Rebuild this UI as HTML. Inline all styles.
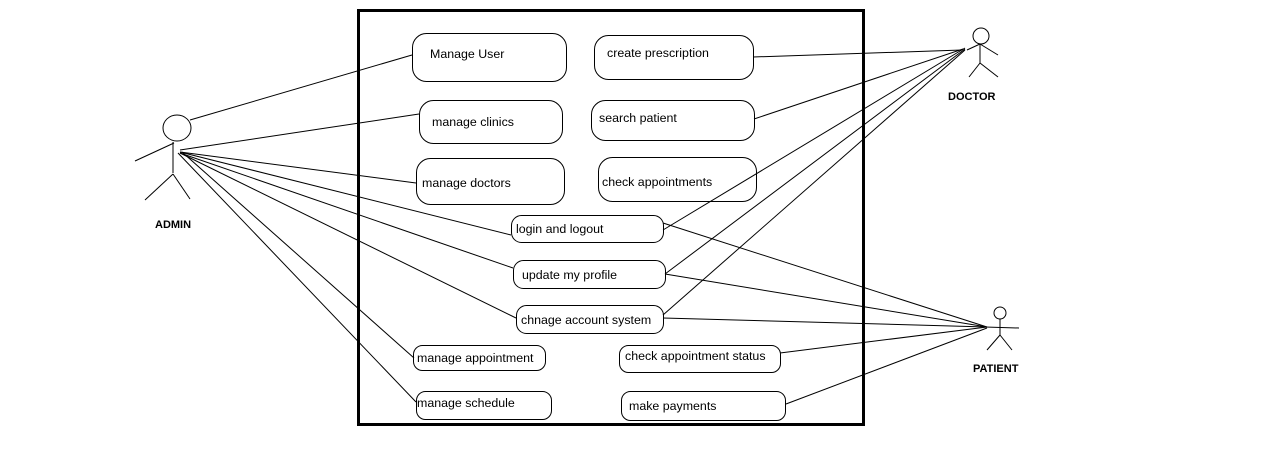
<!DOCTYPE html>
<html><head><meta charset="utf-8"><style>
html,body{margin:0;padding:0;background:#fff;}
svg{display:block;}
text{font-family:"Liberation Sans",sans-serif;font-size:12.4px;fill:#000;}
.b{font-weight:bold;font-size:11px;}
</style></head><body>
<svg width="1277" height="460" viewBox="0 0 1277 460" xmlns="http://www.w3.org/2000/svg">
<g fill="none" stroke="#000" stroke-width="1">
<rect x="358.5" y="10.5" width="505" height="414" stroke-width="3"/>
<rect x="412.5" y="33.5" width="154" height="48" rx="14"/>
<rect x="594.5" y="35.5" width="159" height="44" rx="14"/>
<rect x="419.5" y="100.5" width="143" height="43" rx="14"/>
<rect x="591.5" y="100.5" width="163" height="40" rx="14"/>
<rect x="416.5" y="158.5" width="148" height="46" rx="14"/>
<rect x="598.5" y="157.5" width="158" height="44" rx="14"/>
<rect x="511.5" y="215.5" width="152" height="27" rx="10"/>
<rect x="513.5" y="260.5" width="152" height="28" rx="10"/>
<rect x="516.5" y="305.5" width="147" height="28" rx="10"/>
<rect x="413.5" y="345.5" width="132" height="25" rx="9"/>
<rect x="619.5" y="345.5" width="161" height="27" rx="9"/>
<rect x="416.5" y="391.5" width="135" height="28" rx="9"/>
<rect x="621.5" y="391.5" width="164" height="29" rx="9"/>
<ellipse cx="177" cy="128" rx="14" ry="13"/>
<line x1="173" y1="142" x2="173" y2="173"/>
<line x1="135" y1="161" x2="174" y2="143"/>
<line x1="173" y1="174" x2="145" y2="200"/>
<line x1="173" y1="174" x2="190" y2="199"/>
<line x1="190" y1="120" x2="412" y2="55"/>
<line x1="180" y1="150" x2="419" y2="114"/>
<line x1="180" y1="152" x2="416" y2="183"/>
<line x1="180" y1="152" x2="511" y2="235"/>
<line x1="180" y1="153" x2="513" y2="268"/>
<line x1="180" y1="153" x2="516" y2="318"/>
<line x1="182" y1="152" x2="414" y2="358"/>
<line x1="178" y1="153" x2="416" y2="402"/>
<circle cx="981" cy="36" r="8"/>
<line x1="980" y1="44" x2="980" y2="63"/>
<line x1="967" y1="50" x2="980" y2="44"/>
<line x1="980" y1="44" x2="998" y2="55"/>
<line x1="980" y1="63" x2="969" y2="77"/>
<line x1="980" y1="63" x2="998" y2="77"/>
<line x1="753" y1="57" x2="962" y2="50"/>
<line x1="754" y1="119" x2="963" y2="49"/>
<line x1="663" y1="230" x2="965" y2="48"/>
<line x1="665" y1="274" x2="965" y2="49"/>
<line x1="663" y1="315" x2="965" y2="50"/>
<circle cx="1000" cy="313" r="6"/>
<line x1="1000" y1="319" x2="1000" y2="335"/>
<line x1="985" y1="327" x2="1019" y2="328"/>
<line x1="1000" y1="335" x2="987" y2="350"/>
<line x1="1000" y1="335" x2="1012" y2="350"/>
<line x1="663" y1="223" x2="987" y2="327"/>
<line x1="665" y1="274" x2="987" y2="327"/>
<line x1="663" y1="318" x2="987" y2="327"/>
<line x1="780" y1="353" x2="987" y2="327"/>
<line x1="786" y1="404" x2="987" y2="328"/>
</g>
<text x="430" y="58">Manage User</text>
<text x="607" y="57">create prescription</text>
<text x="432" y="126">manage clinics</text>
<text x="599" y="122">search patient</text>
<text x="422" y="187">manage doctors</text>
<text x="602" y="186">check appointments</text>
<text x="516" y="233">login and logout</text>
<text x="522" y="279">update my profile</text>
<text x="521" y="324">chnage account system</text>
<text x="417" y="362">manage appointment</text>
<text x="625" y="360">check appointment status</text>
<text x="417" y="407">manage schedule</text>
<text x="629" y="410">make payments</text>
<text class="b" x="155" y="228">ADMIN</text>
<text class="b" x="948" y="100">DOCTOR</text>
<text class="b" x="973" y="372">PATIENT</text>
</svg>
</body></html>
